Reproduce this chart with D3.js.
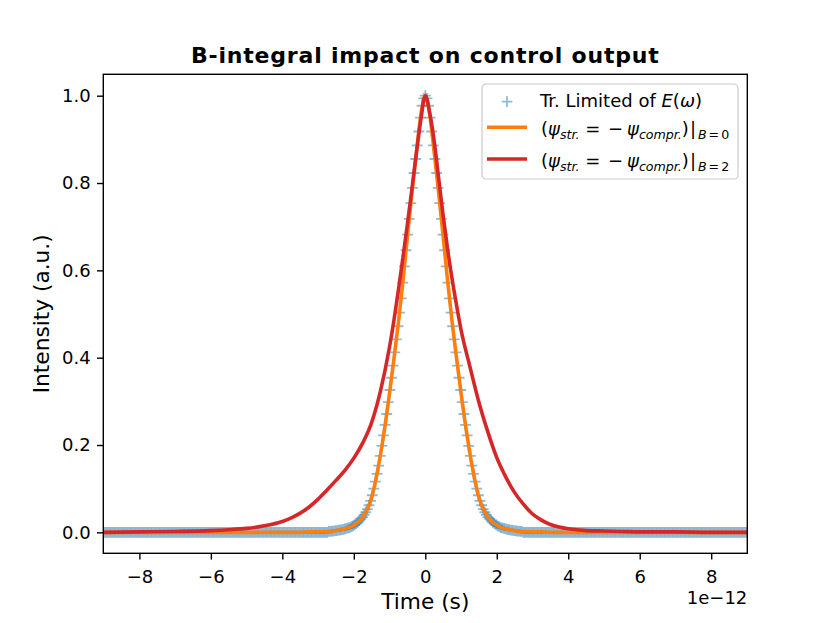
<!DOCTYPE html>
<html>
<head>
<meta charset="utf-8">
<script src="https://cdn.jsdelivr.net/npm/d3@7"></script>
<style>
  body { margin: 0; background: #fff; }
  svg text { font-family: "DejaVu Sans", sans-serif; fill: #000; }
</style>
</head>
<body>
<svg id="mainSvg" width="830" height="623"></svg>
<script>
// time is in ps (axis shows it as 1e-12 s)
var xTicks = [-8, -6, -4, -2, 0, 2, 4, 6, 8];
var yTicks = [0.0, 0.2, 0.4, 0.6, 0.8, 1.0];

// transform limited pulse, sampled on a regular grid
var tlStart = -9;
var tlStep = 0.045;
var tlIntensity = [
  0,0,0,0,0,0,0,0,0,0,0,0,0,0,0,0,0,0,0,0,
  0,0,0,0,0,0,0,0,0,0,0,0,0,0,0,0,0,0,0,0,
  0,0,0,0,0,0,0,0,0,0,0,0,0,0,0,0,0,0,0,0,
  0,0,0,0,0,0,0,0,0,0,0,0,0,0,0,0,0,0,0,0,
  0,0,0,0,0,0,0,0,0,0,0,0,0,0,0,0,0,0,0,0,
  0,0,0,0,0,0,0,0,0,0,0,0,0,0,0,0,0,0,0,0,
  0,0,0,0,0,0,0,0,0,0,0,0,0,0,0,0,0,0,0,0,
  0.002,0.002,0.003,0.003,0.004,0.004,0.005,0.005,0.006,0.007,
  0.008,0.009,0.010,0.011,0.013,0.015,0.017,0.020,0.023,0.027,
  0.031,0.035,0.040,0.046,0.053,0.062,0.072,0.085,0.100,0.116,
  0.134,0.153,0.175,0.198,0.222,0.246,0.271,0.298,0.326,0.354,
  0.382,0.412,0.442,0.472,0.503,0.536,0.572,0.609,0.646,0.682,
  0.718,0.754,0.789,0.823,0.855,0.886,0.918,0.950,0.977,0.994,
  1.000,
  0.994,0.977,0.950,0.918,0.886,0.855,0.823,0.789,0.754,0.718,
  0.682,0.646,0.609,0.572,0.536,0.503,0.472,0.442,0.412,0.382,
  0.354,0.326,0.298,0.271,0.246,0.222,0.198,0.175,0.153,0.134,
  0.116,0.100,0.085,0.072,0.062,0.053,0.046,0.040,0.035,0.031,
  0.027,0.023,0.020,0.017,0.015,0.013,0.011,0.010,0.009,0.008,
  0.007,0.006,0.005,0.005,0.004,0.004,0.003,0.003,0.002,0.002,
  0,0,0,0,0,0,0,0,0,0,0,0,0,0,0,0,0,0,0,0,
  0,0,0,0,0,0,0,0,0,0,0,0,0,0,0,0,0,0,0,0,
  0,0,0,0,0,0,0,0,0,0,0,0,0,0,0,0,0,0,0,0,
  0,0,0,0,0,0,0,0,0,0,0,0,0,0,0,0,0,0,0,0,
  0,0,0,0,0,0,0,0,0,0,0,0,0,0,0,0,0,0,0,0,
  0,0,0,0,0,0,0,0,0,0,0,0,0,0,0,0,0,0,0,0,
  0,0,0,0,0,0,0,0,0,0,0,0,0,0,0,0,0,0,0,0
];

// control output after stretcher/compressor
var lineTime = [-9, -8, -7, -6, -5.5, -5, -4.5, -4, -3.75, -3.5, -3.25, -3,
  -2.75, -2.5, -2.25, -2, -1.75, -1.5, -1.25, -1, -0.875, -0.75, -0.625, -0.5,
  -0.375, -0.25, -0.125, 0, 0.125, 0.25, 0.375, 0.5, 0.625, 0.75, 0.875, 1,
  1.25, 1.5, 1.75, 2, 2.25, 2.5, 2.75, 3, 3.25, 3.5, 3.75, 4, 4.5, 5, 5.5, 6, 7, 8, 9];
var outB0 = [0, 0, 0, 0, 0, 0, 0, 0, 0, 0, 0.001, 0.001,
  0.002, 0.004, 0.008, 0.016, 0.035, 0.080, 0.180, 0.319, 0.399, 0.482, 0.576, 0.678,
  0.777, 0.869, 0.956, 1.000, 0.956, 0.869, 0.777, 0.678, 0.576, 0.482, 0.399, 0.319,
  0.180, 0.080, 0.035, 0.016, 0.008, 0.004, 0.002, 0.001, 0.001, 0, 0, 0, 0, 0, 0, 0, 0, 0, 0];
var outB2 = [0, 0.001, 0.002, 0.004, 0.006, 0.009, 0.015, 0.025, 0.033, 0.044, 0.058, 0.076,
  0.097, 0.119, 0.142, 0.170, 0.205, 0.252, 0.325, 0.425, 0.487, 0.556, 0.630, 0.706,
  0.786, 0.868, 0.945, 1.000, 0.960, 0.895, 0.810, 0.725, 0.648, 0.580, 0.520, 0.464,
  0.379, 0.298, 0.230, 0.171, 0.127, 0.091, 0.064, 0.042, 0.028, 0.018, 0.012, 0.008,
  0.004, 0.003, 0.002, 0.001, 0.001, 0, 0];

var blue = "#1f77b4";
var orange = "#ff7f0e";
var red = "#d62728";

var plotLeft = 103.3, plotRight = 747.3, plotTop = 74.3, plotBottom = 553.3;

var svg = d3.select("#mainSvg");

var x = d3.scaleLinear().domain([-9.01, 9.01]).range([plotLeft, plotRight]);
var y = d3.scaleLinear().domain([-0.048, 1.049]).range([plotBottom, plotTop]);

svg.append("defs").append("clipPath")
  .attr("id", "plotClip")
  .append("rect")
    .attr("x", plotLeft)
    .attr("y", plotTop)
    .attr("width", plotRight - plotLeft)
    .attr("height", plotBottom - plotTop);

var plot = svg.append("g").attr("clip-path", "url(#plotClip)");

function plusPath(size){
  var h = size / 2;
  return "M" + (-h) + ",0H" + h + "M0," + (-h) + "V" + h;
}

plot.selectAll(".tlMarker")
  .data(tlIntensity)
  .enter().append("path")
    .attr("class", "tlMarker")
    .attr("d", plusPath(10.8))
    .attr("transform", function(d, i){
      return "translate(" + x(tlStart + i * tlStep) + "," + y(d) + ")";
    })
    .style("fill", "none")
    .style("stroke", blue)
    .style("stroke-width", 1.8)
    .style("stroke-opacity", 0.5);

var line = d3.line()
  .x(function(d, i){ return x(lineTime[i]); })
  .y(function(d){ return y(d); })
  .curve(d3.curveMonotoneX);

plot.append("path")
  .datum(outB0)
  .attr("d", line)
  .style("fill", "none")
  .style("stroke", orange)
  .style("stroke-width", 3.6)
  .style("stroke-linejoin", "round");

plot.append("path")
  .datum(outB2)
  .attr("d", line)
  .style("fill", "none")
  .style("stroke", red)
  .style("stroke-width", 3.6)
  .style("stroke-linejoin", "round");

// axes
var xAxis = d3.axisBottom(x)
  .tickValues(xTicks)
  .tickSize(6.3)
  .tickSizeOuter(0)
  .tickPadding(6.3)
  .tickFormat(d3.format("d"));
var yAxis = d3.axisLeft(y)
  .tickValues(yTicks)
  .tickSize(6.3)
  .tickSizeOuter(0)
  .tickPadding(6.3)
  .tickFormat(d3.format(".1f"));

var gx = svg.append("g").attr("transform", "translate(0," + plotBottom + ")").call(xAxis);
var gy = svg.append("g").attr("transform", "translate(" + plotLeft + ",0)").call(yAxis);

[gx, gy].forEach(function(g){
  g.select(".domain").remove();
  g.selectAll(".tick line").style("stroke", "#000").style("stroke-width", 1.4);
  g.selectAll(".tick text")
    .style("font-family", "DejaVu Sans, sans-serif")
    .style("font-size", "18px")
    .style("fill", "#000");
});
gx.selectAll(".tick text").attr("dy", "0.95em");

svg.append("rect")
  .attr("x", plotLeft)
  .attr("y", plotTop)
  .attr("width", plotRight - plotLeft)
  .attr("height", plotBottom - plotTop)
  .style("fill", "none")
  .style("stroke", "#000")
  .style("stroke-width", 1.4);

svg.append("text")
  .attr("x", plotRight)
  .attr("y", 604)
  .attr("text-anchor", "end")
  .style("font-size", "18px")
  .text("1e\u221212");

svg.append("text")
  .attr("x", (plotLeft + plotRight) / 2)
  .attr("y", 609.3)
  .attr("text-anchor", "middle")
  .style("font-size", "21.7px")
  .text("Time (s)");

svg.append("text")
  .attr("transform", "translate(49," + ((plotTop + plotBottom) / 2) + ") rotate(-90)")
  .attr("text-anchor", "middle")
  .style("font-size", "21.7px")
  .text("Intensity (a.u.)");

svg.append("text")
  .attr("x", (plotLeft + plotRight) / 2)
  .attr("y", 62.5)
  .attr("text-anchor", "middle")
  .style("font-size", "22px")
  .style("letter-spacing", "0.8px")
  .style("font-weight", "bold")
  .text("B-integral impact on control output");

// legend
var legend = svg.append("g").attr("transform", "translate(482,84)");

legend.append("rect")
  .attr("x", 0)
  .attr("y", 0)
  .attr("width", 256)
  .attr("height", 95)
  .attr("rx", 4)
  .style("fill", "#fff")
  .style("fill-opacity", 0.8)
  .style("stroke", "#cccccc")
  .style("stroke-width", 1.2);

legend.append("path")
  .attr("d", plusPath(10.8))
  .attr("transform", "translate(25,17.7)")
  .style("fill", "none")
  .style("stroke", blue)
  .style("stroke-width", 1.8)
  .style("stroke-opacity", 0.5);

var handles = [{y: 43.3, color: orange}, {y: 75, color: red}];
legend.selectAll(".handle")
  .data(handles)
  .enter().append("line")
    .attr("class", "handle")
    .attr("x1", 5)
    .attr("x2", 45)
    .attr("y1", function(d){ return d.y; })
    .attr("y2", function(d){ return d.y; })
    .style("stroke", function(d){ return d.color; })
    .style("stroke-width", 3.6);

function mathText(g, tx, ty, pieces){
  var t = g.append("text")
    .attr("x", tx)
    .attr("y", ty)
    .style("font-size", "18px")
    .attr("xml:space", "preserve");
  pieces.forEach(function(p){
    var s = t.append("tspan").text(p.s);
    if(p.it) s.style("font-style", "italic");
    if(p.sub) s.style("font-size", "12.6px");
    if(p.dy) s.attr("dy", p.dy);
    if(p.dx) s.attr("dx", p.dx);
  });
}

mathText(legend, 58, 23, [
  {s: "Tr. Limited of "},
  {s: "E", it: true},
  {s: "("},
  {s: "\u03c9", it: true},
  {s: ")"}
]);

function psiLabel(ty, bValue){
  mathText(legend, 59, ty, [
    {s: "("},
    {s: "\u03c8", it: true},
    {s: "str.", it: true, sub: true, dy: 4},
    {s: " = ", dy: -4},
    {s: "\u2212", dx: 2},
    {s: "\u03c8", it: true, dx: 4},
    {s: "compr.", it: true, sub: true, dy: 4},
    {s: ")", dy: -4},
    {s: "|", dx: 1},
    {s: "B", it: true, sub: true, dy: 4, dx: 2},
    {s: "=", sub: true, dx: 2},
    {s: bValue, sub: true, dx: 2}
  ]);
}
psiLabel(51, "0");
psiLabel(82.7, "2");
</script>
</body>
</html>
